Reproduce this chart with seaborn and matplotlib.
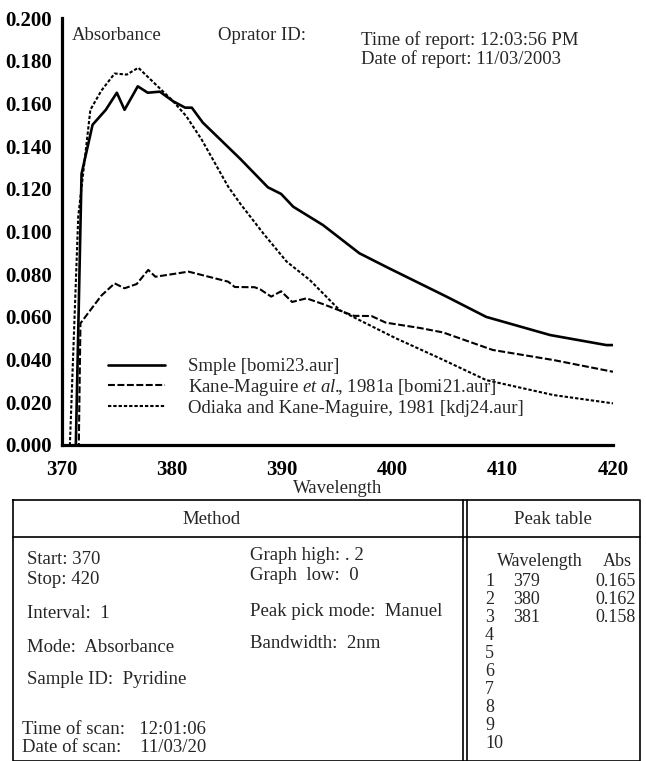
import matplotlib
matplotlib.use("Agg")
import matplotlib.pyplot as plt
import seaborn as sns
import numpy as np

# spectra (wavelength nm, absorbance)
sample_wl = [371.2, 371.8, 372.8, 374.0, 375.0, 375.7, 376.9, 377.8, 378.9, 380.1, 381.2, 381.8,
             382.8, 386.2, 388.7, 389.9, 391.0, 393.7, 397.0, 399.6, 404.9, 408.5, 414.3, 419.4, 420.0]
sample_abs = [-0.02, 0.127, 0.150, 0.157, 0.165, 0.157, 0.168, 0.165, 0.1655, 0.161, 0.158, 0.158,
              0.151, 0.134, 0.1207, 0.1176, 0.1116, 0.103, 0.0898, 0.083, 0.0695, 0.060, 0.0515, 0.0468, 0.0468]

kane_wl = [371.5, 371.7, 373.6, 374.8, 375.7, 376.8, 377.85, 378.5, 381.5, 385.1, 385.7, 387.5, 388.0,
           389.0, 389.9, 390.9, 392.2, 393.7, 394.9, 396.5, 398.1, 399.4, 402.5, 404.6, 409.1, 414.6, 420.0]
kane_abs = [-0.02, 0.057, 0.070, 0.0757, 0.0734, 0.0754, 0.082, 0.0788, 0.0812, 0.0765, 0.074, 0.0739, 0.0729,
            0.0695, 0.072, 0.067, 0.0687, 0.066, 0.0636, 0.0605, 0.0604, 0.0573, 0.0548, 0.0527, 0.0445, 0.0398, 0.0343]

odiaka_wl = [370.6, 371.5, 372.6, 373.6, 374.8, 375.9, 376.95, 378.5, 380.0, 381.3, 382.7, 385.1,
             386.2, 388.3, 390.4, 392.5, 395.2, 397.0, 400.3, 404.3, 408.5, 414.6, 420.0]
odiaka_abs = [-0.02, 0.107, 0.157, 0.166, 0.174, 0.1735, 0.1767, 0.169, 0.1616, 0.154, 0.143, 0.121,
              0.113, 0.099, 0.0859, 0.0773, 0.0632, 0.0585, 0.050, 0.0406, 0.0304, 0.0234, 0.0195]

labels = ["Smple [bomi23.aur]",
          r"Kane-Maguire $\it{et\ al.}\!\!$, 1981a [bomi21.aur]",
          "Odiaka and Kane-Maguire, 1981 [kdj24.aur]"]

xticks = [370, 380, 390, 400, 410, 420]
yticks = [0.0, 0.02, 0.04, 0.06, 0.08, 0.10, 0.12, 0.14, 0.16, 0.18, 0.20]

peak_no = list(range(1, 11))
peak_wl = [379, 380, 381]
peak_abs = [0.165, 0.162, 0.158]

method_left = [("Start: 370", 560), ("Stop: 420", 580), ("Interval:  1", 613),
               ("Mode:  Absorbance", 647), ("Sample ID:  Pyridine", 680)]
method_right = [("Graph high: . 2", 556), ("Graph  low:  0", 575),
                ("Peak pick mode:  Manuel", 611), ("Bandwidth:  2nm", 643)]

sns.set_theme(style="white")
plt.rcParams["font.family"] = ["Liberation Serif", "DejaVu Serif"]
plt.rcParams["mathtext.fontset"] = "custom"
plt.rcParams["mathtext.it"] = "Liberation Serif:italic"
plt.rcParams["mathtext.rm"] = "Liberation Serif"
plt.rcParams["lines.scale_dashes"] = False

W, H = 646, 761
fig = plt.figure(figsize=(W / 100, H / 100), dpi=100)
ax = fig.add_axes([61.7 / W, 1 - 445 / H, (613 - 61.7) / W, (445 - 18) / H])

sns.lineplot(x=sample_wl, y=sample_abs, ax=ax, color="black", lw=1.9, label=labels[0], sort=False)
sns.lineplot(x=kane_wl, y=kane_abs, ax=ax, color="black", lw=1.5, label=labels[1], sort=False,
             dashes=False, linestyle=(0, (5, 1.8)))
sns.lineplot(x=odiaka_wl, y=odiaka_abs, ax=ax, color="black", lw=1.5, label=labels[2], sort=False,
             dashes=False, linestyle=(0, (2.4, 1.4)))

ax.set_xlim(370, 420)
ax.set_ylim(0, 0.2)
ax.set_xticks(xticks)
ax.set_yticks(yticks)
ax.set_yticklabels([f"{v:.3f}" for v in yticks])
for lab in ax.get_xticklabels() + ax.get_yticklabels():
    lab.set_fontweight("bold")
ax.tick_params(direction="out", length=5, width=2, labelsize=15, pad=2, colors="black")
ax.tick_params(axis="x", pad=6)
sns.despine(ax=ax)
for s in ["left", "bottom"]:
    ax.spines[s].set_linewidth(2.3)
    ax.spines[s].set_color("black")
ax.set_xlabel("Wavelength", fontsize=13.5, labelpad=0)
ax.set_ylabel("")
ax.patch.set_alpha(0)

leg = ax.legend(loc="upper left", bbox_to_anchor=(108 / W, 1 - 358 / H), bbox_transform=fig.transFigure,
                frameon=False, fontsize=13.5, handlelength=3.05, handletextpad=1.2,
                labelspacing=0.1, borderpad=0, borderaxespad=0)

# overlay in pixel coordinates for the report header and the method table
ov = fig.add_axes([0, 0, 1, 1], zorder=-1)
ov.set_xlim(0, W)
ov.set_ylim(H, 0)
ov.axis("off")

fs = 13.5
kw = dict(fontsize=fs, va="center")
ov.text(72, 35, "Absorbance", **kw)
ov.text(218, 35, "Oprator ID:", **kw)
ov.text(361, 40, "Time of report: 12:03:56 PM", **kw)
ov.text(361, 59, "Date of report: 11/03/2003", **kw)

lw = 1.2
ov.plot([13, 640, 640, 13, 13], [500, 500, 761, 761, 500], color="black", lw=lw)
ov.plot([13, 640], [537, 537], color="black", lw=lw)
ov.plot([463, 463], [500, 761], color="black", lw=lw)
ov.plot([467, 467], [500, 761], color="black", lw=lw)

ov.text(212, 520, "Method", ha="center", **kw)
ov.text(553, 520, "Peak table", ha="center", **kw)

for txt, y in method_left:
    ov.text(27, y, txt, **kw)
for txt, y in method_right:
    ov.text(250, y, txt, **kw)
ov.text(22, 729, "Time of scan:   12:01:06", **kw)
ov.text(22, 747, "Date of scan:    11/03/20", **kw)

pk = dict(fontsize=13, va="center")
ov.text(497, 562, "Wavelength", **pk)
ov.text(603, 562, "Abs", **pk)
for i, n in enumerate(peak_no):
    y = 582 + i * 17.9
    ov.text(485, y, str(n), **pk)
    if i < len(peak_wl):
        ov.text(513, y, str(peak_wl[i]), **pk)
        ov.text(636, y, f"{peak_abs[i]:.3f}", ha="right", **pk)

fig.savefig("out.png", dpi=100)
